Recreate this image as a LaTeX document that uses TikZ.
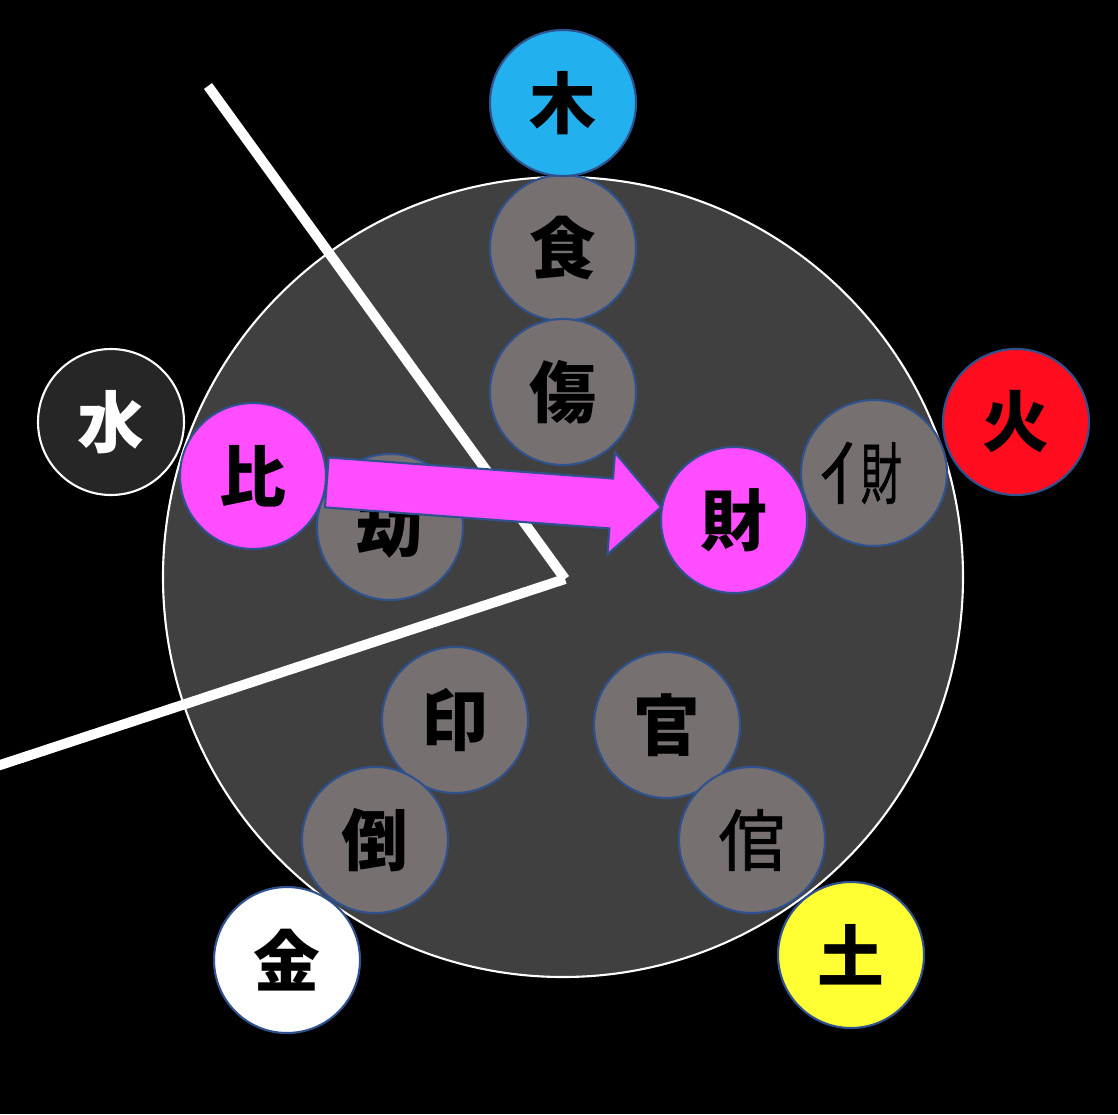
\documentclass[tikz,border=0pt]{standalone}
\usepackage{fontspec}
\usepackage{graphicx}
\usetikzlibrary{calc}
\newfontfamily\cjk{Noto Sans CJK JP}
\newfontfamily\cjkmed{Noto Sans CJK JP}[FakeBold=1.2]
\definecolor{wheelgray}{HTML}{404040}
\definecolor{godgray}{HTML}{767070}
\definecolor{rim}{HTML}{2F528F}
\definecolor{woodblue}{HTML}{22B0EE}
\definecolor{firered}{HTML}{FF0D1F}
\definecolor{earthyellow}{HTML}{FFFF33}
\definecolor{waterdark}{HTML}{262626}
\definecolor{pink}{HTML}{FF4DFF}

\begin{document}
\begin{tikzpicture}[
    ball/.style={circle, draw=rim, line width=0.6pt, minimum size=1.46cm, inner sep=0pt,
        font=\cjk\bfseries\fontsize{19}{19}\selectfont},
    god/.style={ball, fill=godgray},
    plainfont/.style={font=\cjkmed\fontsize{19}{19}\selectfont},
    arrowbody/.style={fill=pink, draw=rim, line width=0.6pt}]

    % background and frame
    \fill[black] (-5.63,-5.37) rectangle (5.55,5.77);
    \useasboundingbox (-5.63,-5.37) rectangle (5.55,5.77);

    \node[circle, draw=white, fill=wheelgray, line width=0.6pt, minimum size=8cm] (wheel) at (0,0) {};

    % white border line
    \coordinate (top) at (-3.55,4.91);
    \coordinate (bend) at (0.02,-0.02);
    \coordinate (left) at (-5.75,-1.92);
    \draw[white, line width=0.1cm] (top) -- (bend);
    \draw[white, line width=0.1cm] (bend) -- (left);

    % the ten gods
    \node[god] (shi) at (0,3.29) {食};
    \node[god] (shang) at (0,1.85) {傷};
    \node[god] (jie) at (-1.73,0.50) {劫};
    \node[god, plainfont] (pcai) at (3.11,1.04)
        {\makebox[0.22em]{亻}\scalebox{0.62}[1]{財}};
    \node[god] (yin) at (-1.08,-1.43) {印};
    \node[god] (guan) at (1.04,-1.48) {官};
    \node[god] (dao) at (-1.88,-2.63) {倒};
    \node[god, plainfont] (pguan) at (1.89,-2.63) {倌};

    % five elements
    \node[ball, fill=woodblue] (mu) at (0,4.74) {木};
    \node[ball, fill=firered] (huo) at (4.53,1.55) {火};
    \node[ball, fill=earthyellow] (tu) at (2.88,-3.78) {土};
    \node[ball, fill=white] (jin) at (-2.76,-3.83) {金};
    \node[ball, fill=waterdark, draw=white, text=white] (shui) at (-4.52,1.55) {水};

    \node[ball, fill=pink] (bi) at (-3.10,1.01) {比};
    \node[ball, fill=pink] (cai) at (1.71,0.57) {財};

    % block arrow bi -> cai
    \coordinate (s) at (bi.-5);
    \coordinate (t) at (cai.170);
    \coordinate (h) at ($(t)!0.5cm!(s)$);
    \draw[arrowbody] ($(s)!0.25cm!90:(t)$) -- ($(h)!0.25cm!-90:(s)$)
        -- ($(h)!0.51cm!-90:(s)$) -- (t) -- ($(h)!0.51cm!90:(s)$)
        -- ($(h)!0.25cm!90:(s)$) -- ($(s)!0.25cm!-90:(t)$) -- cycle;

\end{tikzpicture}
\end{document}
